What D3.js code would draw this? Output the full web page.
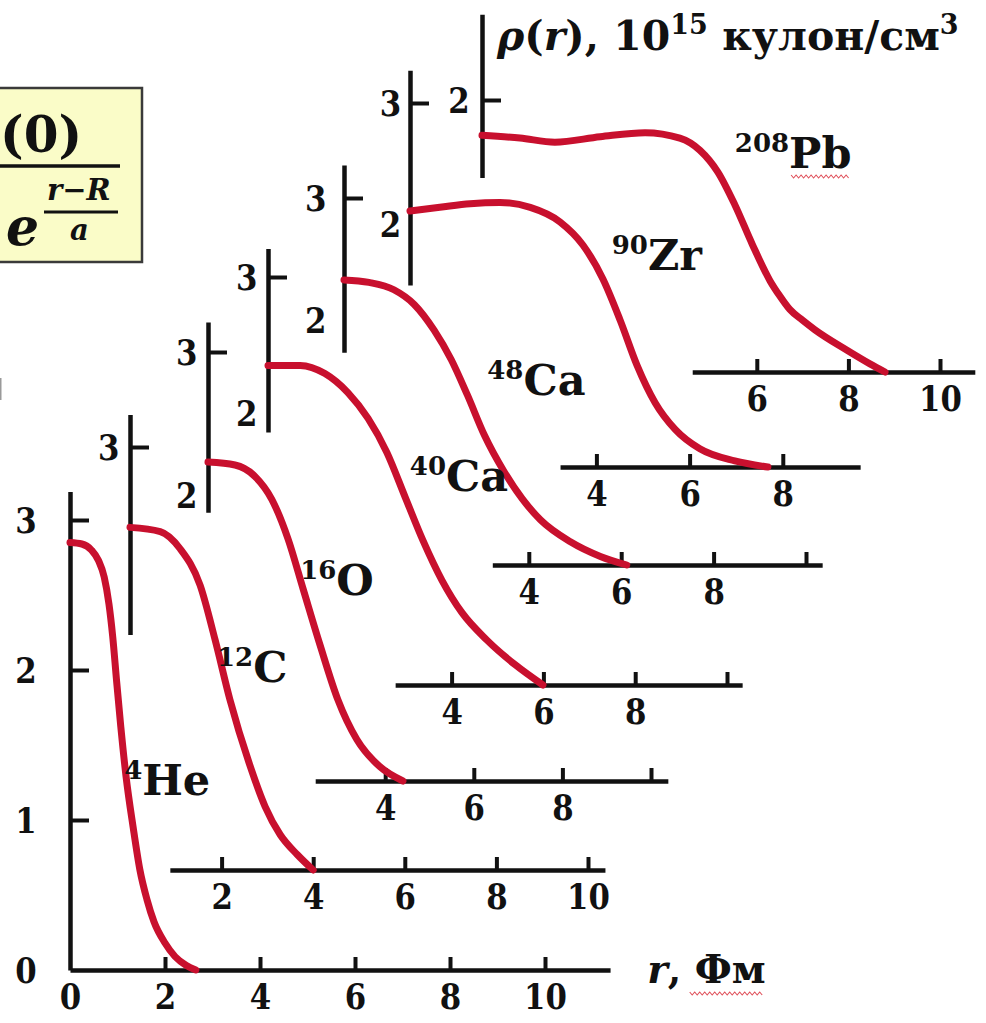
<!DOCTYPE html>
<html>
<head>
<meta charset="utf-8">
<script src="https://cdn.jsdelivr.net/npm/d3@7"></script>
<style>
  html, body { margin: 0; padding: 0; background: #ffffff; }
  svg { display: block; }
</style>
</head>
<body>
<svg id="chart" width="986" height="1023"></svg>
<script>
// ---- Nuclei -------------------------------------------------------------
const massNumbers = [4, 12, 16, 40, 48, 90, 208];
const symbols     = ["He", "C", "O", "Ca", "Ca", "Zr", "Pb"];

// ---- Charge-density profiles: r in fm, rho in 10^15 C/cm^3 -------------
const rHe   = [0, 0.25, 0.45, 0.60, 0.72, 0.82, 0.90, 0.98, 1.07, 1.18, 1.33, 1.47, 1.62, 1.77, 2.00, 2.21, 2.45, 2.65];
const rhoHe = [2.85, 2.84, 2.80, 2.73, 2.62, 2.44, 2.22, 1.93, 1.62, 1.29, 0.95, 0.67, 0.47, 0.32, 0.18, 0.09, 0.03, 0];

const rC    = [0, 0.66, 1.09, 1.53, 1.86, 2.18, 2.62, 2.95, 3.28, 3.65, 4.00];
const rhoC  = [2.43, 2.40, 2.28, 2.02, 1.63, 1.21, 0.74, 0.45, 0.25, 0.11, 0];

const rO    = [0, 0.61, 1.06, 1.44, 1.81, 2.15, 2.53, 2.93, 3.36, 3.88, 4.40];
const rhoO  = [2.23, 2.21, 2.13, 1.97, 1.69, 1.34, 0.95, 0.57, 0.29, 0.10, 0];

const rCa40   = [0, 0.70, 1.24, 1.74, 2.18, 2.59, 2.99, 3.38, 3.79, 4.23, 4.77, 5.38, 5.99];
const rhoCa40 = [2.35, 2.35, 2.29, 2.15, 1.96, 1.71, 1.38, 1.06, 0.77, 0.53, 0.33, 0.15, 0];

const rCa48   = [0, 0.54, 1.08, 1.52, 1.95, 2.32, 2.67, 3.04, 3.47, 3.86, 4.25, 4.90, 5.55, 6.12];
const rhoCa48 = [2.33, 2.31, 2.25, 2.13, 1.92, 1.68, 1.39, 1.06, 0.76, 0.54, 0.37, 0.19, 0.07, 0];

const rZr   = [0, 0.64, 1.29, 1.93, 2.58, 3.22, 3.71, 4.14, 4.51, 4.87, 5.26, 5.69, 6.22, 6.97, 7.68];
const rhoZr = [2.11, 2.14, 2.17, 2.18, 2.14, 2.02, 1.83, 1.55, 1.21, 0.84, 0.53, 0.31, 0.15, 0.05, 0];

const rPb   = [0, 0.83, 1.59, 2.58, 3.56, 4.32, 4.76, 5.15, 5.52, 5.90, 6.29, 6.50, 6.72, 7.00, 7.27, 7.97, 8.47, 8.80];
const rhoPb = [1.74, 1.72, 1.69, 1.73, 1.76, 1.72, 1.63, 1.47, 1.23, 0.94, 0.67, 0.56, 0.46, 0.38, 0.31, 0.16, 0.06, 0];

const radii     = [rHe, rC, rO, rCa40, rCa48, rZr, rPb];
const densities = [rhoHe, rhoC, rhoO, rhoCa40, rhoCa48, rhoZr, rhoPb];

// ---- Tick values (marks) and tick labels for each nucleus ---------------
const xTickMarks  = [[2,4,6,8,10], [2,4,6,8,10], [4,6,8,10], [4,6,8,10], [4,6,8,10], [4,6,8], [6,8,10]];
const xTickLabels = [[0,2,4,6,8,10], [2,4,6,8,10], [4,6,8], [4,6,8], [4,6,8], [4,6,8], [6,8,10]];
const yTickMarks  = [[1,2,3], [3], [3], [3], [3], [3], [2]];
const yTickLabels = [[0,1,2,3], [3], [2,3], [2,3], [2,3], [2,3], [2]];

// ---- Text -------------------------------------------------------------
const xTitleVar  = "r";
const xTitleUnit = ", Фм";
const yTitleParts = [
  { t: "ρ", italic: true }, { t: "(" }, { t: "r", italic: true }, { t: "), 10" },
  { t: "15", sup: true }, { t: " кулон/см" }, { t: "3", sup: true }
];

// ---- Layout of the staggered panels (pixels) ---------------------------
// axisX: x of r = 0, x10: x of r = 10, baseY: y of rho = 0, ref: [rho, y]
const layout = [
  { axisX: 70,  x10: 545, baseY: 970, ref: [3, 520], xLine: [0, 11.37],   yLine: [0, 3.19],    yLabelGap: 38, label: [1.14, 1.17] },
  { axisX: 130, x10: 588, baseY: 870, ref: [3, 447], xLine: [0.87, 10.37], yLine: [1.67, 3.23], yLabelGap: 12, label: [1.90, 1.33] },
  { axisX: 208, x10: 651, baseY: 781, ref: [3, 352], xLine: [2.42, 10.38], yLine: [1.88, 3.21], yLabelGap: 12, label: [2.08, 1.30] },
  { axisX: 268, x10: 727, baseY: 685, ref: [3, 277], xLine: [2.77, 10.33], yLine: [1.86, 3.21], yLabelGap: 12, label: [3.09, 1.43] },
  { axisX: 344, x10: 806, baseY: 565, ref: [3, 198], xLine: [3.21, 10.35], yLine: [1.74, 3.27], yLabelGap: 20, label: [3.10, 1.39] },
  { axisX: 410, x10: 876, baseY: 467, ref: [3, 103], xLine: [3.22, 9.66],  yLine: [1.50, 3.27], yLabelGap: 10, label: [4.33, 1.62] },
  { axisX: 482, x10: 940, baseY: 372, ref: [2, 100], xLine: [4.59, 10.76], yLine: [1.43, 2.63], yLabelGap: 14, label: [5.52, 1.50] }
];

const curveColor = "#c8102e";
const inkColor = "#111";
const serif = "'DejaVu Serif', serif";
const digitSqueeze = 0.88;   // numerals are set a little narrow

const svg = d3.select("#chart");
const styleText = (sel, size) => sel.style("font-family", serif).style("font-weight", "bold")
  .style("font-size", size).attr("fill", inkColor);
const place = (sel, px, py, sx = 1) => sel.attr("transform", `translate(${px},${py}) scale(${sx},1)`);

// Formula box partly cut by the left edge
const box = svg.append("g").attr("class", "formula");
box.append("rect").attr("x", -4).attr("y", 88).attr("width", 146).attr("height", 174)
  .attr("fill", "#fafcc8").attr("stroke", "#3a3a3a").attr("stroke-width", 2.5);
place(styleText(box.append("text"), "50px"), 0, 152).text("(0)");
box.append("line").attr("x1", -2).attr("x2", 120).attr("y1", 166).attr("y2", 166)
  .attr("stroke", inkColor).attr("stroke-width", 3.5);
place(styleText(box.append("text"), "52px").style("font-style", "italic"), 6, 245).text("e");
place(styleText(box.append("text"), "29px").style("font-style", "italic"), 47, 200).text("r−R");
box.append("line").attr("x1", 44).attr("x2", 118).attr("y1", 212).attr("y2", 212)
  .attr("stroke", inkColor).attr("stroke-width", 3);
place(styleText(box.append("text"), "29px").style("font-style", "italic"), 70, 240).text("a");

// thin sliver at the left border
svg.append("rect").attr("x", 0).attr("y", 378).attr("width", 1.5).attr("height", 22).attr("fill", "#9a9a9a");

function squiggle(g, x0, x1, y) {
  const pts = [];
  for (let xx = x0, i = 0; xx <= x1; xx += 2.5, i++) pts.push([xx, y + (i % 2 ? 2 : -1)]);
  g.append("path").attr("d", d3.line()(pts)).attr("fill", "none")
    .attr("stroke", "#e0505a").attr("stroke-width", 1.1);
}

const axesLayer = svg.append("g");
const curveLayer = svg.append("g");
const labelLayer = svg.append("g");

layout.forEach((p, i) => {
  const x = d3.scaleLinear().domain([0, 10]).range([p.axisX, p.x10]);
  const y = d3.scaleLinear().domain([0, p.ref[0]]).range([p.baseY, p.ref[1]]);

  const g = axesLayer.append("g").attr("class", "panel-" + symbols[i]);

  // horizontal r axis
  const xs = x.copy().domain(p.xLine).range(p.xLine.map(x));
  const xMarks = g.append("g").attr("transform", `translate(0,${p.baseY})`)
    .call(d3.axisBottom(xs).tickValues(xTickMarks[i]).tickSize(-13).tickSizeOuter(0).tickFormat(""));
  const xLabs = g.append("g").attr("transform", `translate(0,${p.baseY})`)
    .call(d3.axisBottom(xs).tickValues(xTickLabels[i]).tickSize(0).tickPadding(14).tickFormat(d3.format("d")));
  xLabs.select(".domain").remove();

  // vertical rho axis
  const ys = y.copy().domain(p.yLine).range(p.yLine.map(y));
  const yMarks = g.append("g").attr("transform", `translate(${p.axisX},0)`)
    .call(d3.axisRight(ys).tickValues(yTickMarks[i]).tickSize(19).tickSizeOuter(0).tickFormat(""));
  const yLabs = g.append("g").attr("transform", `translate(${p.axisX},0)`)
    .call(d3.axisLeft(ys).tickValues(yTickLabels[i]).tickSize(0).tickPadding(p.yLabelGap).tickFormat(d3.format("d")));
  yLabs.select(".domain").remove();

  [xMarks, yMarks].forEach(a => {
    a.select(".domain").attr("stroke", inkColor).attr("stroke-width", 4.5);
    a.selectAll(".tick line").attr("stroke", inkColor).attr("stroke-width", 4);
  });
  [xLabs, yLabs].forEach(a => {
    a.attr("font-family", null).attr("font-size", null);
    styleText(a.selectAll(".tick text"), "35px").attr("transform", `scale(${digitSqueeze},1)`);
  });
  yLabs.selectAll(".tick text").attr("dy", "0.36em");

  // density curve
  const pts = radii[i].map((r, k) => ({ r, rho: densities[i][k] }));
  curveLayer.append("path").datum(pts)
    .attr("fill", "none").attr("stroke", curveColor).attr("stroke-width", 7)
    .attr("stroke-linecap", "round").attr("stroke-linejoin", "round")
    .attr("d", d3.line().x(d => x(d.r)).y(d => y(d.rho)).curve(d3.curveMonotoneX));

  // nucleus label
  const lx = x(p.label[0]), ly = y(p.label[1]);
  const t = place(styleText(labelLayer.append("text"), "43px"), lx, ly);
  t.append("tspan").style("font-size", "26px").attr("dy", -16).text(massNumbers[i]);
  const sym = t.append("tspan").attr("dy", 16).text(symbols[i]);
  if (symbols[i] === "Pb") {
    const bb = sym.node().getBBox();
    squiggle(labelLayer, lx + bb.x + 2, lx + bb.x + bb.width - 2, ly + 8);
  }

  // axis titles on the first and last panels
  if (i === 0) {
    const ax = x(12.15), ay = p.baseY + 13;
    const tt = place(styleText(labelLayer.append("text"), "39px"), ax, ay);
    tt.append("tspan").style("font-style", "italic").text(xTitleVar);
    const unit = tt.append("tspan").text(xTitleUnit);
    const bb = unit.node().getBBox();
    squiggle(labelLayer, ax + bb.x + 22, ax + bb.x + bb.width - 2, ay + 10);
  }
  if (i === layout.length - 1) {
    const tt = place(styleText(labelLayer.append("text"), "41px"), p.axisX + 15, 50);
    let shift = 0;
    yTitleParts.forEach(part => {
      const s = tt.append("tspan").text(part.t);
      if (part.italic) s.style("font-style", "italic");
      if (part.sup) s.style("font-size", "27px");
      const want = part.sup ? -16 : 0;
      s.attr("dy", want - shift);
      shift = want;
    });
  }
});
</script>
</body>
</html>
